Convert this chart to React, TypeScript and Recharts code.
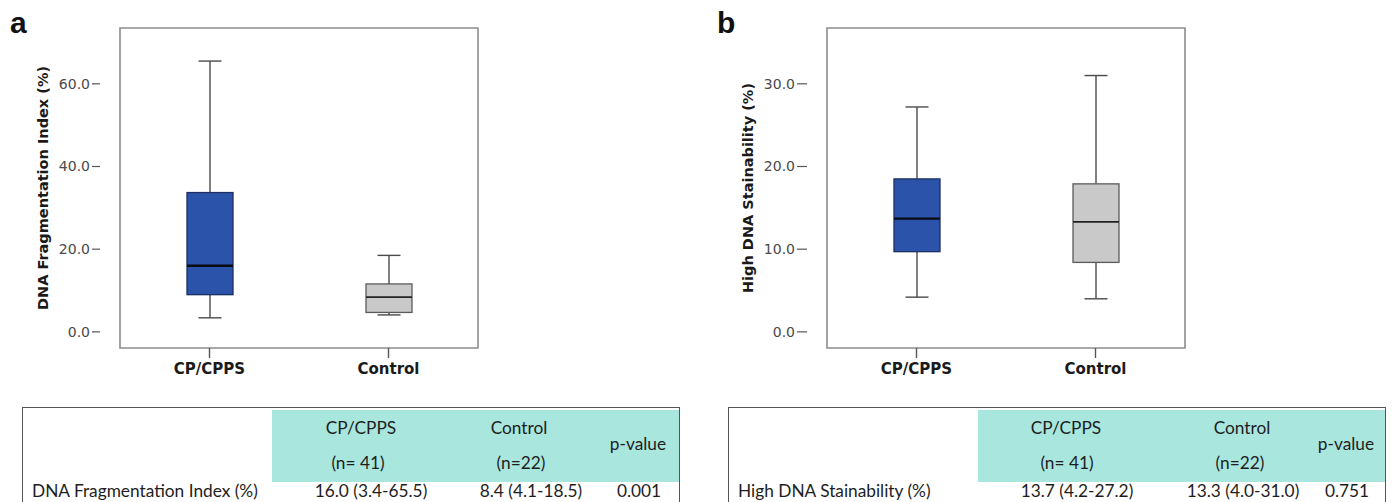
import { ComposedChart, Bar, XAxis, YAxis, ReferenceArea, Label } from "recharts";

const categories = ["CP/CPPS", "Control"];

// panel a – DNA Fragmentation Index (%)
const dfiMin = [3.4, 4.1];
const dfiQ1 = [9.0, 4.7];
const dfiMedian = [16.0, 8.4];
const dfiQ3 = [33.7, 11.6];
const dfiMax = [65.5, 18.5];
const dfiTicks = [0, 20, 40, 60];

// panel b – High DNA Stainability (%)
const hdsMin = [4.2, 4.0];
const hdsQ1 = [9.7, 8.4];
const hdsMedian = [13.7, 13.3];
const hdsQ3 = [18.5, 17.9];
const hdsMax = [27.2, 31.0];
const hdsTicks = [0, 10, 20, 30];

// tables under the plots
const tableHeads = ["CP/CPPS", "Control", "p-value"];
const tableCounts = ["(n= 41)", "(n=22)"];
const dfiRow = ["DNA Fragmentation Index (%)", "16.0 (3.4-65.5)", "8.4 (4.1-18.5)", "0.001"];
const hdsRow = ["High DNA Stainability (%)", "13.7 (4.2-27.2)", "13.3 (4.0-31.0)", "0.751"];

const boxFill = ["#2b53a9", "#c9c9c9"];
const boxStroke = ["#1c2f63", "#5b5b5b"];
const medianStroke = ["#0a0a14", "#222"];
const TEAL = "#a8e6de";

const build = (mins: number[], q1: number[], med: number[], q3: number[], maxs: number[]) =>
  categories.map((name, i) => ({
    name,
    range: [mins[i], maxs[i]],
    min: mins[i],
    q1: q1[i],
    median: med[i],
    q3: q3[i],
    max: maxs[i],
  }));

const BoxShape = (props: any) => {
  const { x, y, width, height, payload, index } = props;
  const top = Math.min(y, y + height);
  const bottom = Math.max(y, y + height);
  const { min, max, q1, median, q3 } = payload;
  const toPx = (v: number) => top + ((max - v) / (max - min)) * (bottom - top);
  const cx = x + width / 2;
  const cap = width / 4;
  const whisk = "#4a4a4a";
  return (
    <g>
      <line x1={cx} x2={cx} y1={toPx(max)} y2={toPx(q3)} stroke={whisk} strokeWidth={1.4} />
      <line x1={cx} x2={cx} y1={toPx(q1)} y2={toPx(min)} stroke={whisk} strokeWidth={1.4} />
      <line x1={cx - cap} x2={cx + cap} y1={toPx(max)} y2={toPx(max)} stroke={whisk} strokeWidth={1.4} />
      <line x1={cx - cap} x2={cx + cap} y1={toPx(min)} y2={toPx(min)} stroke={whisk} strokeWidth={1.4} />
      <rect
        x={x}
        y={toPx(q3)}
        width={width}
        height={toPx(q1) - toPx(q3)}
        fill={boxFill[index]}
        stroke={boxStroke[index]}
        strokeWidth={1.3}
      />
      <line
        x1={x}
        x2={x + width}
        y1={toPx(median)}
        y2={toPx(median)}
        stroke={medianStroke[index]}
        strokeWidth={index === 0 ? 2.4 : 1.8}
      />
    </g>
  );
};

type PanelProps = {
  letter: string;
  left: number;
  letterX: number;
  yLabel: string;
  data: any[];
  domain: [number, number];
  ticks: number[];
  marginLeft: number;
  labelOffset: number;
  tickSize: number;
};

function BoxPanel({ letter, left, letterX, yLabel, data, domain, ticks, marginLeft, labelOffset, tickSize }: PanelProps) {
  const width = 520;
  const height = 400;
  const yWidth = 70;
  const marginRight = width - marginLeft - yWidth - 398;
  return (
    <div style={{ position: "absolute", left, top: 0, width, height }}>
      <div
        style={{
          position: "absolute",
          left: letterX,
          top: 8,
          lineHeight: "30px",
          fontFamily: "Liberation Sans",
          fontWeight: 700,
          fontSize: 30,
          color: "#111",
        }}
      >
        {letter}
      </div>
      <ComposedChart
        width={width}
        height={height}
        data={data}
        margin={{ top: 28, right: marginRight, bottom: 12, left: marginLeft }}
        style={{ fontFamily: "DejaVu Sans" }}
      >
        <XAxis
          dataKey="name"
          type="category"
          height={40}
          padding={{ left: 20, right: 20 }}
          axisLine={false}
          tickSize={10}
          tickMargin={5}
          tickLine={{ stroke: "#555", strokeWidth: 1.4 }}
          tick={{ fill: "#1a1a1a", fontSize: 15, fontWeight: 700 }}
        />
        <YAxis
          type="number"
          domain={domain}
          ticks={ticks}
          allowDataOverflow
          width={yWidth}
          axisLine={false}
          tickSize={tickSize}
          tickMargin={2}
          tickLine={{ stroke: "#555", strokeWidth: 1.2 }}
          tick={{ fill: "#4a4a4a", fontSize: 14 }}
          tickFormatter={(v: number) => v.toFixed(1)}
        >
          <Label
            content={(p: any) => {
              const vb = p.viewBox || {};
              const lx = (vb.x ?? marginLeft) + labelOffset;
              const ly = (vb.y ?? 28) + (vb.height ?? 320) / 2;
              return (
                <text
                  x={lx}
                  y={ly}
                  transform={`rotate(-90 ${lx} ${ly})`}
                  textAnchor="middle"
                  dominantBaseline="central"
                  fontSize={14.5}
                  fontWeight={700}
                  fill="#1a1a1a"
                  fontFamily="DejaVu Sans"
                >
                  {yLabel}
                </text>
              );
            }}
          />
        </YAxis>
        <ReferenceArea
          y1={domain[0]}
          y2={domain[1]}
          fill="none"
          stroke="#8c8c8c"
          strokeWidth={1.6}
          ifOverflow="visible"
        />
        <Bar dataKey="range" barSize={46} shape={<BoxShape />} isAnimationActive={false} />
      </ComposedChart>
    </div>
  );
}

type TableProps = {
  left: number;
  row: string[];
  headX: number[];
  countX: number[];
  valueX: number[];
};

function StatTable({ left, row, headX, countX, valueX }: TableProps) {
  const txt = (s: string, cx: number, cy: number, key: string) => (
    <div
      key={key}
      style={{
        position: "absolute",
        left: cx - 100,
        width: 200,
        top: cy - 12,
        height: 24,
        lineHeight: "24px",
        textAlign: "center",
        whiteSpace: "nowrap",
      }}
    >
      {s}
    </div>
  );
  return (
    <div
      style={{
        position: "absolute",
        left,
        top: 407,
        width: 658,
        height: 110,
        borderTop: "1.5px solid #555",
        borderLeft: "1.5px solid #555",
        borderRight: "1.5px solid #555",
        boxSizing: "border-box",
        fontFamily: "Lato",
        fontSize: 17.3,
        color: "#1e1e1e",
      }}
    >
      <div style={{ position: "absolute", left: 249, top: 1.5, right: 0, height: 72, background: TEAL }} />
      {txt(tableHeads[0], headX[0], 20, "h0")}
      {txt(tableHeads[1], headX[1], 20, "h1")}
      {txt(tableHeads[2], headX[2], 36, "h2")}
      {txt(tableCounts[0], countX[0], 55, "c0")}
      {txt(tableCounts[1], countX[1], 55, "c1")}
      <div style={{ position: "absolute", left: 9, top: 71, lineHeight: "24px", whiteSpace: "nowrap" }}>{row[0]}</div>
      {txt(row[1], valueX[0], 83, "v1")}
      {txt(row[2], valueX[1], 83, "v2")}
      {txt(row[3], valueX[2], 83, "v3")}
    </div>
  );
}

export default function App() {
  const dfiData = build(dfiMin, dfiQ1, dfiMedian, dfiQ3, dfiMax);
  const hdsData = build(hdsMin, hdsQ1, hdsMedian, hdsQ3, hdsMax);
  return (
    <div style={{ position: "absolute", left: 0, top: 0, width: 1392, height: 502, background: "#fff", overflow: "hidden" }}>
      <BoxPanel
        letter="a"
        left={0}
        letterX={10}
        yLabel="DNA Fragmentation Index (%)"
        data={dfiData}
        domain={[-3.9, 73.5]}
        ticks={dfiTicks}
        marginLeft={30}
        labelOffset={13}
        tickSize={8}
      />
      <BoxPanel
        letter="b"
        left={700}
        letterX={17}
        yLabel="High DNA Stainability (%)"
        data={hdsData}
        domain={[-1.95, 36.75]}
        ticks={hdsTicks}
        marginLeft={37}
        labelOffset={11}
        tickSize={10}
      />
      <StatTable left={22} row={dfiRow} headX={[338, 496, 615]} countX={[335, 498]} valueX={[348, 508, 616]} />
      <StatTable left={728} row={hdsRow} headX={[337, 513, 617]} countX={[338, 511]} valueX={[348, 514, 618]} />
    </div>
  );
}
